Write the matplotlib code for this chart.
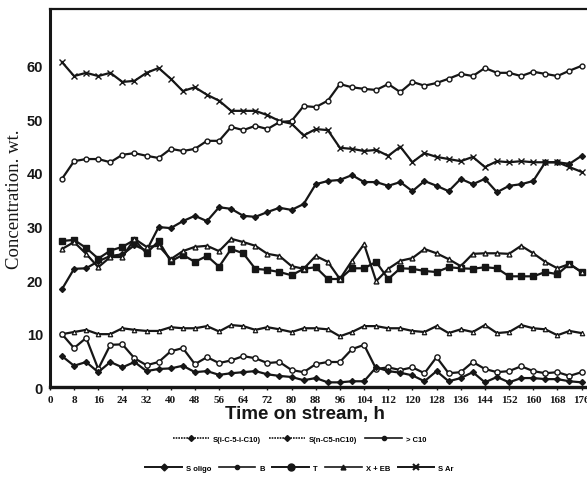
import matplotlib
matplotlib.use("Agg")
import matplotlib.pyplot as plt
from matplotlib.lines import Line2D

# time on stream, h (one sample every 4 h)
hours = list(range(4, 177, 4))

s_ar = [60.7, 58.1, 58.7, 58.1, 58.7, 57.0, 57.2, 58.7, 59.6, 57.6, 55.3, 56.0,
        54.6, 53.5, 51.6, 51.6, 51.6, 50.8, 49.7, 49.2, 47.0, 48.2, 48.0, 44.7,
        44.5, 44.1, 44.3, 43.2, 44.9, 42.0, 43.7, 43.0, 42.6, 42.2, 43.0, 41.1,
        42.2, 42.0, 42.2, 42.0, 42.0, 42.0, 41.1, 40.2]
s_iso = [38.9, 42.2, 42.6, 42.6, 42.0, 43.4, 43.7, 43.2, 42.8, 44.5, 44.1, 44.5,
         46.0, 46.0, 48.6, 48.0, 48.8, 48.2, 49.5, 49.7, 52.5, 52.3, 53.5, 56.6,
         56.0, 55.7, 55.5, 56.6, 55.1, 57.0, 56.3, 56.8, 57.6, 58.5, 58.1, 59.6,
         58.7, 58.7, 58.1, 58.9, 58.5, 58.1, 59.1, 60.0]
s_oligo = [18.3, 22.1, 22.2, 23.5, 24.5, 24.8, 26.5, 25.5, 29.9, 29.7, 31.0, 32.0,
           31.0, 33.6, 33.3, 32.0, 31.8, 32.7, 33.5, 33.1, 34.2, 37.9, 38.5, 38.7,
           39.6, 38.3, 38.3, 37.6, 38.3, 36.6, 38.5, 37.6, 36.6, 38.9, 37.9, 38.9,
           36.4, 37.6, 37.9, 38.5, 42.0, 42.0, 41.7, 43.2]
toluene = [27.3, 27.5, 26.0, 24.0, 25.5, 26.2, 27.5, 25.0, 27.3, 23.5, 24.7, 23.4,
           24.5, 22.5, 25.8, 25.0, 22.1, 21.9, 21.5, 20.9, 22.1, 22.4, 20.2, 20.2,
           22.2, 22.2, 23.4, 20.2, 22.2, 22.1, 21.7, 21.5, 22.4, 22.2, 22.1, 22.4,
           22.2, 20.7, 20.7, 20.7, 21.5, 21.1, 23.0, 21.5]
xeb = [25.8, 27.1, 24.9, 22.4, 24.3, 24.3, 27.7, 26.2, 26.4, 23.9, 25.4, 26.2,
       26.4, 25.4, 27.7, 27.1, 26.4, 24.9, 24.5, 22.6, 22.1, 24.5, 23.4, 20.2,
       23.6, 26.7, 19.8, 22.1, 23.6, 24.1, 25.8, 25.0, 23.9, 22.6, 24.9, 25.0,
       25.0, 24.9, 26.4, 25.0, 23.4, 22.2, 23.0, 21.5]
benzene = [9.9, 10.3, 10.7, 9.9, 9.9, 11.0, 10.7, 10.5, 10.5, 11.2, 11.0, 11.0,
           11.4, 10.4, 11.6, 11.4, 10.7, 11.2, 10.8, 10.3, 11.0, 11.0, 10.8, 9.5,
           10.3, 11.4, 11.4, 11.0, 11.0, 10.5, 10.3, 11.4, 10.1, 10.8, 10.3, 11.6,
           10.1, 10.3, 11.6, 11.0, 10.8, 9.7, 10.5, 10.1]
s_norm = [9.9, 7.3, 9.2, 3.4, 7.9, 8.0, 5.4, 4.1, 4.7, 6.7, 7.3, 4.3,
          5.6, 4.5, 5.0, 5.8, 5.4, 4.5, 4.7, 3.2, 2.8, 4.3, 4.7, 4.7,
          7.1, 7.9, 3.4, 3.7, 3.2, 3.7, 2.6, 5.6, 2.6, 2.8, 4.7, 3.4,
          2.8, 3.0, 3.9, 3.0, 2.6, 2.8, 2.1, 2.8]
heavy = [5.8, 4.0, 4.7, 2.8, 4.7, 3.7, 4.7, 3.0, 3.4, 3.5, 4.0, 2.8,
         3.0, 2.3, 2.6, 2.8, 3.0, 2.4, 2.1, 1.9, 1.3, 1.7, 0.9, 0.9,
         1.1, 1.1, 3.7, 3.0, 2.7, 2.2, 1.1, 3.0, 1.1, 1.7, 2.8, 0.9,
         1.9, 0.9, 1.7, 1.7, 1.5, 1.5, 1.1, 0.9]

INK = "#161616"
SERIF = ["Liberation Serif", "DejaVu Serif"]
SANS = ["Liberation Sans", "DejaVu Sans"]

fig = plt.figure(figsize=(5.87, 4.81), dpi=100)
ax = fig.add_axes([0.085, 0.193, 0.915, 0.786])

kw = dict(color=INK, lw=1.6)
ax.plot(hours, s_ar, marker="x", ms=4, mew=1.0, **kw)
ax.plot(hours, s_iso, marker="o", ms=3.5, mfc="white", mew=1.0, **kw)
ax.plot(hours, s_oligo, marker="D", ms=3, **kw)
ax.plot(hours, toluene, marker="s", ms=4.2, **kw)
ax.plot(hours, xeb, marker="^", ms=3.5, mfc="white", mew=1.0, **kw)
ax.plot(hours, benzene, marker="^", ms=3.2, mfc="white", mew=0.9, **kw)
ax.plot(hours, s_norm, marker="o", ms=3.8, mfc="white", mew=1.0, **kw)
ax.plot(hours, heavy, marker="D", ms=3, **kw)

ax.set_xlim(0, 177.8)
ax.set_ylim(0, 70.6)
ax.set_xticks(range(0, 177, 8))
ax.set_yticks(range(0, 61, 10))
ax.set_xticklabels([str(t) for t in range(0, 177, 8)], family=SERIF, fontsize=8,
                   fontweight="bold")
ax.set_yticklabels([str(v) for v in range(0, 61, 10)], family=SANS, fontsize=10.5,
                   fontweight="bold")
ax.tick_params(axis="x", length=2.5, width=1, pad=3, colors=INK)
ax.tick_params(axis="y", length=0, pad=5, colors=INK)

ax.spines["left"].set_linewidth(2.2)
ax.spines["bottom"].set_linewidth(2.4)
ax.spines["top"].set_linewidth(1.6)
ax.spines["right"].set_visible(False)
for s in ("left", "bottom", "top"):
    ax.spines[s].set_color(INK)

ax.set_xlabel("Time on stream, h", family=SANS, fontsize=13.5, fontweight="bold",
              color=INK)
ax.xaxis.set_label_coords(0.475, -0.048)
ax.set_ylabel("Concentration. wt.", family=SERIF, fontsize=13.5, color=INK)
ax.yaxis.set_label_coords(-0.05, 0.5)

# legend rows, styled like the printed key
row1 = [
    (Line2D([], [], color=INK, lw=1.2, ls=(0, (1, 0.6)), marker="D", ms=3), "S(i-C-5-i-C10)"),
    (Line2D([], [], color=INK, lw=1.2, ls=(0, (1, 0.6)), marker="D", ms=3), "S(n-C5-nC10)"),
    (Line2D([], [], color=INK, lw=1.2, marker="o", ms=3), "> C10"),
]
row2 = [
    (Line2D([], [], color=INK, lw=1.4, marker="D", ms=3.5), "S oligo"),
    (Line2D([], [], color=INK, lw=1.2, marker="o", ms=3), "B"),
    (Line2D([], [], color=INK, lw=1.4, marker="o", ms=5), "T"),
    (Line2D([], [], color=INK, lw=1.2, marker="^", ms=3.5), "X + EB"),
    (Line2D([], [], color=INK, lw=1.4, marker="x", ms=4, mew=1.5), "S Ar"),
]
for rows, y in ((row1, 0.085), (row2, 0.025)):
    fig.legend([h for h, _ in rows], [l for _, l in rows], loc="center",
               bbox_to_anchor=(0.51, y), ncol=len(rows), frameon=False,
               prop=dict(family=SANS, size=5.5, weight="bold"),
               handlelength=4.8, handletextpad=0.5, columnspacing=1.0)

fig.savefig("out.png", dpi=100)
